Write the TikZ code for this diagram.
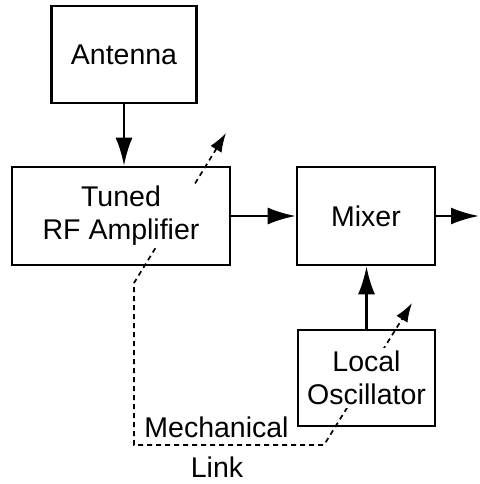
\documentclass[tikz,border=0pt]{standalone}
\usepackage{fontspec}
\setmainfont{Liberation Sans}
\usetikzlibrary{arrows.meta}
\begin{document}
\begin{tikzpicture}[x=1pt,y=-1pt,
  box/.style={draw, line width=2.6pt, inner sep=0pt},
  txt/.style={font=\fontsize{28.5}{33}\selectfont, align=center, text=black},
  arr/.style={line width=2.6pt, -{Latex[length=28pt,width=17pt]}},
  mech/.style={line width=1.7pt, dash pattern=on 5pt off 4pt, {Latex[length=19pt,width=13pt]}-{Latex[length=19pt,width=13pt]}}
]
\useasboundingbox (0,0) rectangle (479,484);
% boxes
\node[box, minimum width=145pt, minimum height=97pt, txt] (ant) at (124,54.5) {Antenna};
\node[box, minimum width=218pt, minimum height=98pt] (rf) at (121,216) {};
\node[box, minimum width=138pt, minimum height=98pt, txt] (mix) at (366,216) {Mixer};
\node[box, minimum width=137pt, minimum height=96pt] (lo) at (366.5,378) {};
\coordinate (out) at (479,216);
% mechanical link
\coordinate (t1) at (226,133);
\coordinate (m1) at (134,283);
\coordinate (m2) at (134,445);
\coordinate (m3) at (324,445);
\coordinate (t2) at (412,303);
\draw[mech] (t1) -- (m1) -- (m2) -- (m3) -- (t2);
% texts over the link
\node[txt, fill=white, inner sep=2pt] (rft) at (rf.center) {Tuned\\RF Amplifier};
\node[txt, fill=white, inner sep=3pt] (lot) at (lo.center) {Local\\Oscillator};
\node[txt, anchor=base] (mecht) at (216.5,437) {Mechanical};
\node[txt, anchor=base] (linkt) at (217,477) {Link};
% signal arrows
\draw[arr] (ant.south) -- (ant.south |- rf.north);
\draw[arr] (rf.east) -- (mix.west);
\draw[arr] (mix.east) -- (out);
\draw[arr] (lo.north) -- (lo.north |- mix.south);
\end{tikzpicture}
\end{document}
